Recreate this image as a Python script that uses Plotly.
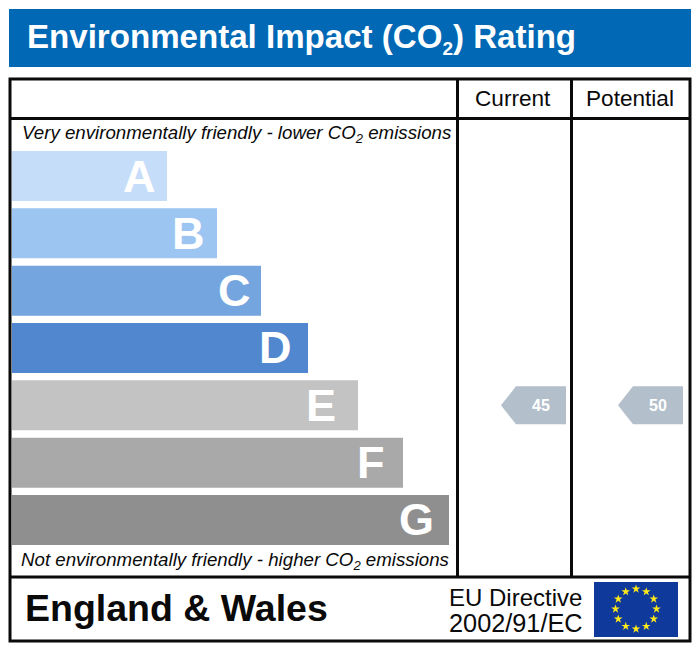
import math
import plotly.graph_objects as go

# Rating bands and bar lengths
bands = ["A", "B", "C", "D", "E", "F", "G"]
bar_lengths = [155, 205, 249, 296, 346, 391, 437]
bar_colors = ["#c6ddfa", "#9dc5f1", "#74a5de", "#5187cf", "#c3c3c3", "#a9a9a9", "#8f8f8f"]
letter_insets = [9, 10, 8, 14, 20, 16, 13]

columns = ["Current", "Potential"]
column_bands = ["E", "E"]
column_scores = [45, 50]

WIDTH = 700
HEIGHT = 651
FONT = "Liberation Sans"
ROW_TOP = 176      # centre of band A in pixels
ROW_PITCH = 57.33
BAR_LEFT = 12


def y_dom(top, bottom):
    return [1 - bottom / HEIGHT, 1 - top / HEIGHT]


fig = go.Figure()

# Rating bars on their own axes
fig.add_trace(go.Bar(
    x=bar_lengths,
    y=bands,
    orientation="h",
    marker=dict(color=bar_colors, line=dict(width=0)),
    xaxis="x2",
    yaxis="y2",
    hoverinfo="skip",
))

# EU flag stars
star_x = [636 + 20.5 * math.sin(i * math.pi / 6) for i in range(12)]
star_y = [609 - 20 * math.cos(i * math.pi / 6) for i in range(12)]
fig.add_trace(go.Scatter(
    x=star_x,
    y=star_y,
    mode="markers",
    marker=dict(symbol="star", size=6.5, color="#ffe81a", line=dict(width=0)),
    hoverinfo="skip",
))

fig.update_layout(
    width=WIDTH,
    height=HEIGHT,
    margin=dict(l=0, r=0, t=0, b=0),
    paper_bgcolor="white",
    plot_bgcolor="rgba(0,0,0,0)",
    showlegend=False,
    bargap=0.128,
    # pixel canvas for frame, header, text and pointers
    xaxis=dict(range=[0, WIDTH], domain=[0, 1], visible=False, fixedrange=True),
    yaxis=dict(range=[HEIGHT, 0], domain=[0, 1], visible=False, fixedrange=True),
    # bars
    xaxis2=dict(range=[0, WIDTH - BAR_LEFT], domain=[BAR_LEFT / WIDTH, 1],
                anchor="y2", visible=False, fixedrange=True),
    yaxis2=dict(categoryorder="array", categoryarray=bands, autorange="reversed",
                domain=y_dom(ROW_TOP - ROW_PITCH / 2, ROW_TOP + 6.5 * ROW_PITCH),
                anchor="x2", visible=False, fixedrange=True),
)

shapes = [
    # title banner
    dict(type="rect", x0=9, x1=691, y0=9, y1=67, fillcolor="#0068b4", line_width=0, layer="below"),
    # flag
    dict(type="rect", x0=594, x1=678, y0=582, y1=637, fillcolor="#0f3a9c", line_width=0, layer="below"),
]
frame = dict(color="#0a0a0a", width=3)
shapes.append(dict(type="rect", x0=10, x1=690, y0=79, y1=641, line=frame))
shapes.append(dict(type="line", x0=10, x1=690, y0=118.5, y1=118.5, line=frame))
shapes.append(dict(type="line", x0=10, x1=690, y0=577, y1=577, line=frame))
shapes.append(dict(type="line", x0=457.5, x1=457.5, y0=79, y1=577, line=frame))
shapes.append(dict(type="line", x0=571.5, x1=571.5, y0=79, y1=577, line=frame))

annotations = []


def label(x, y, text, size, color="#0a0a0a", anchor="left", **font):
    annotations.append(dict(
        x=x, y=y, xref="x", yref="y", text=text, showarrow=False,
        xanchor=anchor, yanchor="middle", align=anchor,
        font=dict(family=FONT, size=size, color=color, **font),
    ))


label(25, 38, 'Environmental Impact (CO<sub><span style="font-size:19px">2</span></sub>) Rating', 33.1,
      color="white", weight="bold")
label(20, 134, "<i>Very environmentally friendly - lower CO<sub>2</sub> emissions</i>", 18.7)
label(19, 561, "<i>Not environmentally friendly - higher CO<sub>2</sub> emissions</i>", 18.7)
label(23, 608, "England &amp; Wales", 37.5, weight="bold")
label(447, 597, "EU Directive", 24)
label(447, 623, "2002/91/EC", 25.3)

# Band letters sit inside the bars
for band, length, inset in zip(bands, bar_lengths, letter_insets):
    annotations.append(dict(
        x=length - inset, y=band, xref="x2", yref="y2", text=band, showarrow=False,
        xanchor="right", yanchor="middle",
        font=dict(family=FONT, size=45, color="white", weight="bold"),
    ))

# Column headings and score pointers
column_centres = [513, 630]
pointer_right = [566, 683]
for name, centre, right, band, score in zip(columns, column_centres, pointer_right, column_bands, column_scores):
    label(centre, 98, name, 22.6, anchor="center")
    cy = ROW_TOP + ROW_PITCH * bands.index(band)
    left = right - 65
    shapes.append(dict(
        type="path",
        path=f"M {left} {cy} L {left + 15} {cy - 19} L {right} {cy - 19} L {right} {cy + 19} L {left + 15} {cy + 19} Z",
        fillcolor="#b3bfcb", line_width=0,
    ))
    label(right - 25, cy, str(score), 16, color="white", anchor="center", weight="bold")

fig.update_layout(shapes=shapes, annotations=annotations)

fig.write_html("out.html", config={"displayModeBar": False},
               post_script="document.body.style.margin='0';")
